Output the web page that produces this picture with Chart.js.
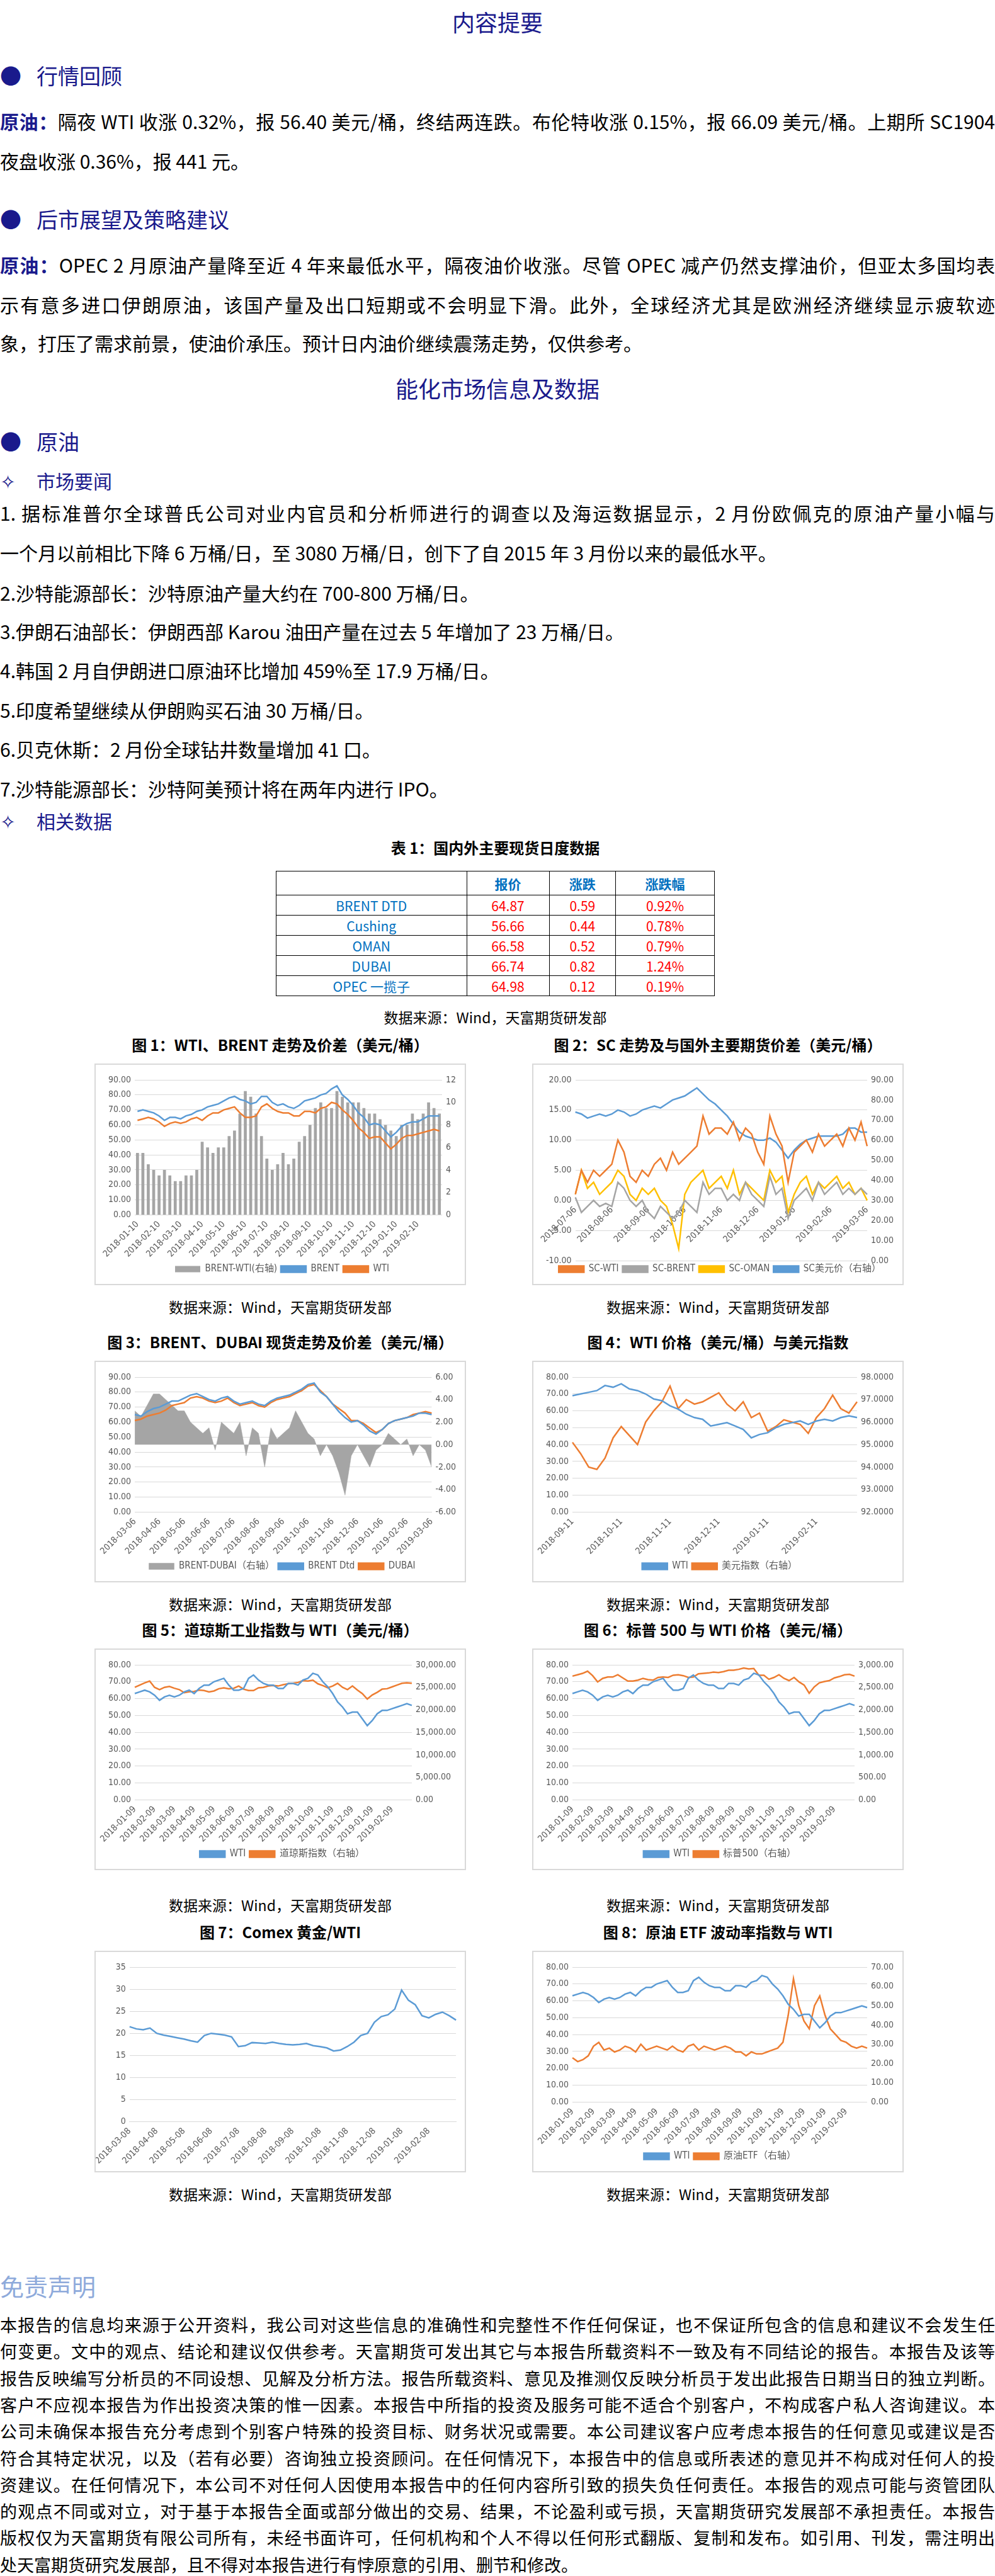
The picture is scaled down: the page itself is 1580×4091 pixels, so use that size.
<!DOCTYPE html>
<html lang="zh-CN">
<head>
<meta charset="UTF-8" />
<title>能化日报</title>
<script src="https://cdn.jsdelivr.net/npm/chart.js"></script>
<style>
  body { margin: 0; background: #fff; font-family: "Noto Sans CJK SC", sans-serif; color: #000; }
  #page { position: relative; width: 1580px; height: 4091px; overflow: hidden; }
  .t { position: absolute; left: 0; white-space: nowrap; transform: translateY(-50%); }
  .ln { position: absolute; left: 0; width: 1580px; text-align: justify; text-align-last: justify; transform: translateY(-50%); font-size: 30px; line-height: 40px; }
  .lnl { position: absolute; left: 0; white-space: nowrap; transform: translateY(-50%); font-size: 30px; line-height: 40px; }
  .h1 { width: 1580px; text-align: center; font-size: 36px; color: #1a1a8c; }
  .h2 { font-size: 34px; color: #1a1a8c; }
  .h3 { font-size: 30px; color: #1a1a8c; }
  .b { color: #1a1a8c; font-weight: bold; }
  .cap { position: absolute; text-align: center; font-size: 24px; font-weight: bold; transform: translateY(-50%); white-space: nowrap; }
  .src { position: absolute; text-align: center; font-size: 23px; transform: translateY(-50%); white-space: nowrap; }
  .box { position: absolute; border: 2px solid #d9d9d9; box-sizing: border-box; }
  table { position: absolute; left: 438px; top: 1383px; width: 697px; border-collapse: collapse; font-size: 21px; }
  td { border: 1.5px solid #000; text-align: center; height: 31px; padding: 0; }
  td.h { color: #0070c0; font-weight: bold; height: 37px; }
  td.n { color: #0070c0; }
  td.v { color: #ff0000; }
  .dis { font-size: 27px; line-height: 36px; }
</style>
</head>
<body>
<div id="page">
  <div class="t h1" style="top:34px">内容提要</div>
  <div class="t h2" style="top:119px"><span style="display:inline-block;width:58px">●</span>行情回顾</div>
  <div class="ln" style="top:192px"><span class="b">原油：</span>隔夜 WTI 收涨 0.32%，报 56.40 美元/桶，终结两连跌。布伦特收涨 0.15%，报 66.09 美元/桶。上期所 SC1904</div>
  <div class="lnl" style="top:255px">夜盘收涨 0.36%，报 441 元。</div>
  <div class="t h2" style="top:347px"><span style="display:inline-block;width:58px">●</span>后市展望及策略建议</div>
  <div class="ln" style="top:420px"><span class="b">原油：</span>OPEC 2 月原油产量降至近 4 年来最低水平，隔夜油价收涨。尽管 OPEC 减产仍然支撑油价，但亚太多国均表</div>
  <div class="ln" style="top:483px">示有意多进口伊朗原油，该国产量及出口短期或不会明显下滑。此外，全球经济尤其是欧洲经济继续显示疲软迹</div>
  <div class="lnl" style="top:544px">象，打压了需求前景，使油价承压。预计日内油价继续震荡走势，仅供参考。</div>

  <div class="t h1" style="top:616px">能化市场信息及数据</div>
  <div class="t h2" style="top:700px"><span style="display:inline-block;width:58px">●</span>原油</div>
  <div class="t h3" style="top:763px"><span style="display:inline-block;width:58px">✧</span>市场要闻</div>
  <div class="ln" style="top:814px">1.  据标准普尔全球普氏公司对业内官员和分析师进行的调查以及海运数据显示，2 月份欧佩克的原油产量小幅与</div>
  <div class="lnl" style="top:877px">一个月以前相比下降 6 万桶/日，至 3080 万桶/日，创下了自 2015 年 3 月份以来的最低水平。</div>
  <div class="lnl" style="top:941px">2.沙特能源部长：沙特原油产量大约在 700-800 万桶/日。</div>
  <div class="lnl" style="top:1002px">3.伊朗石油部长：伊朗西部 Karou 油田产量在过去 5 年增加了 23 万桶/日。</div>
  <div class="lnl" style="top:1064px">4.韩国 2 月自伊朗进口原油环比增加 459%至 17.9 万桶/日。</div>
  <div class="lnl" style="top:1127px">5.印度希望继续从伊朗购买石油 30 万桶/日。</div>
  <div class="lnl" style="top:1189px">6.贝克休斯：2 月份全球钻井数量增加 41 口。</div>
  <div class="lnl" style="top:1252px">7.沙特能源部长：沙特阿美预计将在两年内进行 IPO。</div>
  <div class="t h3" style="top:1303px"><span style="display:inline-block;width:58px">✧</span>相关数据</div>

  <div class="cap" style="top:1345px;left:438px;width:697px;font-size:24px">表 1：国内外主要现货日度数据</div>
  <table id="tbl"></table>
  <div class="src" style="top:1615px;left:438px;width:697px;font-size:23px">数据来源：Wind，天富期货研发部</div>

  <div id="charts"></div>

  <div class="t" style="top:3629px;font-size:38px;color:#8eaadb">免责声明</div>
  <div id="dis"></div>
</div>

<script>
// table 1
const tblRows = ["BRENT  DTD", "Cushing", "OMAN", "DUBAI", "OPEC 一揽子"];
const tblPrice = ["64.87", "56.66", "66.58", "66.74", "64.98"];
const tblChg = ["0.59", "0.44", "0.52", "0.82", "0.12"];
const tblPct = ["0.92%", "0.78%", "0.79%", "1.24%", "0.19%"];

// shared WTI, weekly from 2018-01 (4 points per month)
const wtiWeekly = [63,64,65,64, 62,59,61,62, 61,62,64,65, 63,66,68,68, 70,71,72,68, 65,65,66,72, 74,71,69,68, 68,66,66,69, 69,68,71,72, 75,74,70,67, 63,58,55,51, 52,52,48,44, 47,51,53,53, 54,55,56,57, 56];

// fig 1
const f1Ticks = ["2018-01-10","2018-02-10","2018-03-10","2018-04-10","2018-05-10","2018-06-10","2018-07-10","2018-08-10","2018-09-10","2018-10-10","2018-11-10","2018-12-10","2019-01-10","2019-02-10"];
const f1Brent = [69,70,69,68, 66,63,65,65, 64,66,67,69, 70,72,73,74, 76,78,79,77, 76,74,75,79, 79,75,73,74, 72,71,73,76, 77,78,80,81, 84,86,80,77, 73,68,65,60, 61,60,56,52, 55,59,61,62, 62,64,66,66, 66];
const f1Spread = [5.5,5.5,4.5,4, 3.5,4,3.5,3, 3,3.5,3.5,4, 6.5,6,5.5,6, 6,7,7.5,9, 11,10.5,9,7, 5,4,4.5,5.5, 4.5,5,6.5,7, 8,9.5,10,9.5, 9.5,11,10.5,10, 10,10,9.5,9, 9,8.5,8,7.5, 7,8,8,9, 8.5,9,10,9.5, 9];

// fig 2
const f2Ticks = ["2018-07-06","2018-08-06","2018-09-06","2018-10-06","2018-11-06","2018-12-06","2019-01-06","2019-02-06","2019-03-06"];
const f2ScWti = [1,5,3,5,4,5, 6,10,8,4,3,5, 4,6,7,5,8,6, 7,8,9,14,11,12, 12,11,13,10,12,11, 8,6,14,11,9,3, 8,9,10,8,11,9, 10,11,9,12,10,13, 9];
const f2ScBrent = [0.5,-2,-1,0,-1,-0.5, -1,3,2,0,-1,0, -2,-3,-1,-2,-3,-2, 0,-1,-2,3,1,2, 2,0,1,0,3,1, 0,-1,4,1,2,-3, 0,1,2,0,3,1, 2,3,1,2,1,2, 1];
const f2ScOman = [1,5,2,3,1,2, 3,5,4,1,0,2, 1,2,0,-1,-4,-8, 1,3,4,5,2,3, 4,2,5,1,3,2, 1,0,5,3,4,-2, 1,3,4,1,3,2, 3,4,2,3,1,2, 0];
const f2ScUsd = [74,73,71,72,73,72, 73,75,74,72,73,75, 76,77,76,78,80,81, 82,84,86,83,80,78, 75,72,68,64,62,61, 60,60,61,59,55,51, 55,58,60,61,62,62, 62,62,63,66,66,64, 64];

// fig 3
const f3Ticks = ["2018-03-06","2018-04-06","2018-05-06","2018-06-06","2018-07-06","2018-08-06","2018-09-06","2018-10-06","2018-11-06","2018-12-06","2019-01-06","2019-02-06","2019-03-06"];
const f3Brent = [65,64,67,69, 70,72,74,74, 76,78,79,77, 75,74,76,77, 74,72,73,74, 72,71,74,76, 77,78,80,82, 85,86,80,77, 72,67,63,60, 61,58,54,52, 55,59,61,62, 63,64,66,66, 65];
const f3Dubai = [61,62,64,65, 66,68,71,72, 73,76,77,76, 74,73,74,76, 73,71,72,73, 71,70,73,75, 76,77,79,81, 84,85,81,77, 72,69,66,61, 61,59,56,53, 55,59,61,62, 63,65,66,67, 66];
const f3Spread = [3,2.5,3.5,4.5, 4.5,4,3.5,3, 3,2,1.5,1, 1.5,-0.5,2,1.5, 1,2,-1,1.5, 1,-2,1.5,0.5, 1,1.5,3,2, 1,0.5,-1,0, -1,-2.5,-4.5,-1, 0,-1,-2,-0.5, 0,1,0.5,0, 0.5,-1,0,-0.5, -2];

// fig 4
const f4Ticks = ["2018-09-11","2018-10-11","2018-11-11","2018-12-11","2019-01-11","2019-02-11"];
const f4Wti = [69,70,71,72,75,74, 76,73,72,70,67,66, 63,61,58,56,55,51, 52,53,51,49,44,46, 47,50,52,53,54,52, 54,55,54,56,57,56];
const f4Usdx = [95.1,94.6,94.0,93.9,94.4,95.3, 95.8,95.4,95.0,96.0,96.5,96.9, 97.6,96.6,97.0,96.8,96.9,97.1, 97.3,96.8,96.5,96.9,96.2,96.4, 95.6,95.8,96.1,96.0,95.9,95.5, 96.2,96.6,97.2,96.6,96.4,96.9];

// fig 5 / 6 / 8 ticks
const f5Ticks = ["2018-01-09","2018-02-09","2018-03-09","2018-04-09","2018-05-09","2018-06-09","2018-07-09","2018-08-09","2018-09-09","2018-10-09","2018-11-09","2018-12-09","2019-01-09","2019-02-09"];
const f5Dow = [25000,25500,26000,26400, 25000,24500,25000,25200, 24800,24500,23800,24000, 24100,24400,24300,24000, 24200,24700,24900,24700, 24800,25300,24600,24300, 24300,24900,25000,25300, 25400,25300,25600,25800, 25900,26100,26500,26400, 26600,25800,25400,24900, 25300,25900,25000,24500, 25300,24400,23600,22400, 23300,23900,24600,24700, 25100,25500,25900,26000, 25900];
const f6Spx = [2750,2780,2810,2860, 2760,2620,2700,2730, 2730,2780,2710,2640, 2640,2660,2700,2670, 2660,2720,2730,2720, 2770,2780,2760,2720, 2730,2800,2810,2820, 2840,2830,2850,2880, 2880,2900,2930,2910, 2920,2770,2770,2680, 2720,2780,2700,2650, 2720,2620,2550,2370, 2510,2600,2630,2650, 2710,2740,2780,2790, 2750];
const f8Etf = [23,21,22,24, 29,31,27,28, 26,27,29,28, 26,30,27,28, 29,28,27,29, 27,26,29,30, 27,29,28,27, 28,29,28,26, 26,24,26,25, 25,26,27,28, 31,45,64,50, 42,38,50,55, 45,38,35,32, 31,29,28,29, 28];

// fig 7
const f7Ticks = ["2018-03-08","2018-04-08","2018-05-08","2018-06-08","2018-07-08","2018-08-08","2018-09-08","2018-10-08","2018-11-08","2018-12-08","2019-01-08","2019-02-08"];
const f7Ratio = [21.5,21,20.8,21.2, 20,19.6,19.3,19, 18.7,18.3,18,19.5, 20,19.8,19.6,19.2, 17,17.2,17.9,17.8, 17.7,18,17.7,17.5, 17.4,17.5,17.7,17.2, 17,16.7,16,16.2, 17,18,19.5,20, 22.5,23.8,24.2,25.5, 29.8,27.5,26.5,24, 23.5,24.3,24.8,24, 23];

const disLines = [
  "本报告的信息均来源于公开资料，我公司对这些信息的准确性和完整性不作任何保证，也不保证所包含的信息和建议不会发生任",
  "何变更。文中的观点、结论和建议仅供参考。天富期货可发出其它与本报告所载资料不一致及有不同结论的报告。本报告及该等",
  "报告反映编写分析员的不同设想、见解及分析方法。报告所载资料、意见及推测仅反映分析员于发出此报告日期当日的独立判断。",
  "客户不应视本报告为作出投资决策的惟一因素。本报告中所指的投资及服务可能不适合个别客户，不构成客户私人咨询建议。本",
  "公司未确保本报告充分考虑到个别客户特殊的投资目标、财务状况或需要。本公司建议客户应考虑本报告的任何意见或建议是否",
  "符合其特定状况，以及（若有必要）咨询独立投资顾问。在任何情况下，本报告中的信息或所表述的意见并不构成对任何人的投",
  "资建议。在任何情况下，本公司不对任何人因使用本报告中的任何内容所引致的损失负任何责任。本报告的观点可能与资管团队",
  "的观点不同或对立，对于基于本报告全面或部分做出的交易、结果，不论盈利或亏损，天富期货研究发展部不承担责任。本报告",
  "版权仅为天富期货有限公司所有，未经书面许可，任何机构和个人不得以任何形式翻版、复制和发布。如引用、刊发，需注明出",
  "处天富期货研究发展部，且不得对本报告进行有悖原意的引用、删节和修改。"
];

// ---- build table
let html = '<tr><td class="h"></td><td class="h">报价</td><td class="h">涨跌</td><td class="h">涨跌幅</td></tr>';
tblRows.forEach((r, i) => {
  html += `<tr><td class="n">${r}</td><td class="v">${tblPrice[i]}</td><td class="v">${tblChg[i]}</td><td class="v">${tblPct[i]}</td></tr>`;
});
document.getElementById("tbl").innerHTML = html;

// ---- disclaimer
const dis = document.getElementById("dis");
disLines.forEach((l, i) => {
  const d = document.createElement("div");
  d.className = (i < disLines.length - 1 ? "ln" : "lnl") + " dis";
  d.style.top = (3692 + i * 42.3) + "px";
  d.textContent = l;
  dis.appendChild(d);
});

// ---- charts
Chart.defaults.font.family = "'Liberation Sans Narrow','DejaVu Sans Condensed',sans-serif";
Chart.defaults.font.size = 14;
Chart.defaults.color = "#595959";
Chart.defaults.animation = false;

const BLUE = "#5b9bd5", ORANGE = "#ed7d31", GREY = "#a5a5a5", YELLOW = "#ffc000";

// month tick label on the first point of each block, blanks between
function monthLabels(ticks, per, total) {
  const out = [];
  for (let i = 0; i < total; i++) out.push(i % per === 0 && ticks[i / per] ? ticks[i / per] : "");
  return out;
}
const fmt2 = v => Number(v).toFixed(2);
const fmtK = v => Number(v).toLocaleString("en-US", { minimumFractionDigits: 2, maximumFractionDigits: 2 });

function line(label, data, color, axis) {
  return { type: "line", label, data, borderColor: color, backgroundColor: color, borderWidth: 2.5, pointRadius: 0, tension: 0, yAxisID: axis || "y", order: 1 };
}

function yAxis(min, max, step, fmt, pos, grid) {
  return {
    position: pos, min, max,
    ticks: { stepSize: step, callback: fmt, padding: 6 },
    grid: { display: grid, color: "#d9d9d9", drawTicks: false },
    border: { display: false }
  };
}

function makeChart(cfg) {
  const box = document.createElement("div");
  box.className = "box";
  Object.assign(box.style, { left: cfg.x + "px", top: cfg.y + "px", width: cfg.w + "px", height: "352px" });
  const cv = document.createElement("canvas");
  box.appendChild(cv);
  document.getElementById("charts").appendChild(box);
  const cx = cfg.x + cfg.w / 2;
  const cap = document.createElement("div");
  cap.className = "cap";
  Object.assign(cap.style, { left: (cx - 400) + "px", width: "800px", top: (cfg.y - 31) + "px" });
  cap.textContent = cfg.title;
  document.getElementById("charts").appendChild(cap);
  const src = document.createElement("div");
  src.className = "src";
  Object.assign(src.style, { left: (cx - 400) + "px", width: "800px", top: (cfg.y + 352 + cfg.srcGap) + "px" });
  src.textContent = "数据来源：Wind，天富期货研发部";
  document.getElementById("charts").appendChild(src);

  const scales = {
    x: {
      position: cfg.xAt0 ? { y: 0 } : "bottom",
      grid: { display: false, drawTicks: true, tickLength: 5, color: "#d9d9d9" },
      border: { color: "#d9d9d9" },
      ticks: { autoSkip: false, maxRotation: 45, minRotation: 45, padding: 2 }
    },
    y: yAxis(cfg.left[0], cfg.left[1], cfg.left[2], cfg.left[3], "left", true)
  };
  if (cfg.right) scales.y1 = yAxis(cfg.right[0], cfg.right[1], cfg.right[2], cfg.right[3], "right", false);
  new Chart(cv, {
    data: { labels: cfg.labels, datasets: cfg.datasets },
    options: {
      responsive: true, maintainAspectRatio: false,
      layout: { padding: { left: 14, right: 8, top: 24, bottom: 6 } },
      plugins: {
        legend: {
          display: cfg.legend !== false, position: "bottom",
          labels: { boxWidth: 40, boxHeight: 10, padding: 6, font: { size: 15 }, sort: (a, b) => a.datasetIndex - b.datasetIndex }
        },
        tooltip: { enabled: false }
      },
      scales
    }
  });
}

const LX = 150, RX = 845, W1 = 590;

makeChart({
  x: LX, y: 1689, w: W1, srcGap: 34, title: "图 1：WTI、BRENT 走势及价差（美元/桶）",
  labels: monthLabels(f1Ticks, 4, f1Brent.length),
  left: [0, 90, 10, fmt2], right: [0, 12, 2, v => v],
  datasets: [
    { type: "bar", label: "BRENT-WTI(右轴)", data: f1Spread, backgroundColor: GREY, yAxisID: "y1", order: 3, barPercentage: 0.55, categoryPercentage: 1 },
    line("BRENT", f1Brent, BLUE),
    line("WTI", wtiWeekly, ORANGE)
  ]
});

makeChart({
  x: RX, y: 1689, w: W1, srcGap: 34, title: "图 2：SC 走势及与国外主要期货价差（美元/桶）",
  labels: monthLabels(f2Ticks, 6, f2ScWti.length), xAt0: true,
  left: [-10, 20, 5, fmt2], right: [0, 90, 10, fmt2],
  datasets: [
    line("SC-WTI", f2ScWti, ORANGE),
    line("SC-BRENT", f2ScBrent, GREY),
    line("SC-OMAN", f2ScOman, YELLOW),
    line("SC美元价（右轴）", f2ScUsd, BLUE, "y1")
  ]
});

makeChart({
  x: LX, y: 2161, w: W1, srcGap: 34, title: "图 3：BRENT、DUBAI 现货走势及价差（美元/桶）",
  labels: monthLabels(f3Ticks, 4, f3Brent.length),
  left: [0, 90, 10, fmt2], right: [-6, 6, 2, fmt2],
  datasets: [
    { type: "line", label: "BRENT-DUBAI（右轴）", data: f3Spread, borderColor: GREY, backgroundColor: GREY, borderWidth: 0.5, pointRadius: 0, fill: "origin", yAxisID: "y1", order: 3 },
    line("BRENT Dtd", f3Brent, BLUE),
    line("DUBAI", f3Dubai, ORANGE)
  ]
});

makeChart({
  x: RX, y: 2161, w: W1, srcGap: 34, title: "图 4：WTI 价格（美元/桶）与美元指数",
  labels: monthLabels(f4Ticks, 6, f4Wti.length),
  left: [0, 80, 10, fmt2], right: [92, 98, 1, v => Number(v).toFixed(4)],
  datasets: [
    line("WTI", f4Wti, BLUE),
    line("美元指数（右轴）", f4Usdx, ORANGE, "y1")
  ]
});

makeChart({
  x: LX, y: 2618, w: W1, srcGap: 55, title: "图 5：道琼斯工业指数与 WTI（美元/桶）",
  labels: monthLabels(f5Ticks, 4, wtiWeekly.length),
  left: [0, 80, 10, fmt2], right: [0, 30000, 5000, fmtK],
  datasets: [
    line("WTI", wtiWeekly, BLUE),
    line("道琼斯指数（右轴）", f5Dow, ORANGE, "y1")
  ]
});

makeChart({
  x: RX, y: 2618, w: W1, srcGap: 55, title: "图 6：标普 500 与 WTI 价格（美元/桶）",
  labels: monthLabels(f5Ticks, 4, wtiWeekly.length),
  left: [0, 80, 10, fmt2], right: [0, 3000, 500, fmtK],
  datasets: [
    line("WTI", wtiWeekly, BLUE),
    line("标普500（右轴）", f6Spx, ORANGE, "y1")
  ]
});

makeChart({
  x: LX, y: 3098, w: W1, srcGap: 34, title: "图 7：Comex 黄金/WTI", legend: false,
  labels: monthLabels(f7Ticks, 4, f7Ratio.length),
  left: [0, 35, 5, v => v],
  datasets: [line("黄金/WTI", f7Ratio, BLUE)]
});

makeChart({
  x: RX, y: 3098, w: W1, srcGap: 34, title: "图 8：原油 ETF 波动率指数与 WTI",
  labels: monthLabels(f5Ticks, 4, wtiWeekly.length),
  left: [0, 80, 10, fmt2], right: [0, 70, 10, fmt2],
  datasets: [
    line("WTI", wtiWeekly, BLUE),
    line("原油ETF（右轴）", f8Etf, ORANGE, "y1")
  ]
});
</script>
</body>
</html>
